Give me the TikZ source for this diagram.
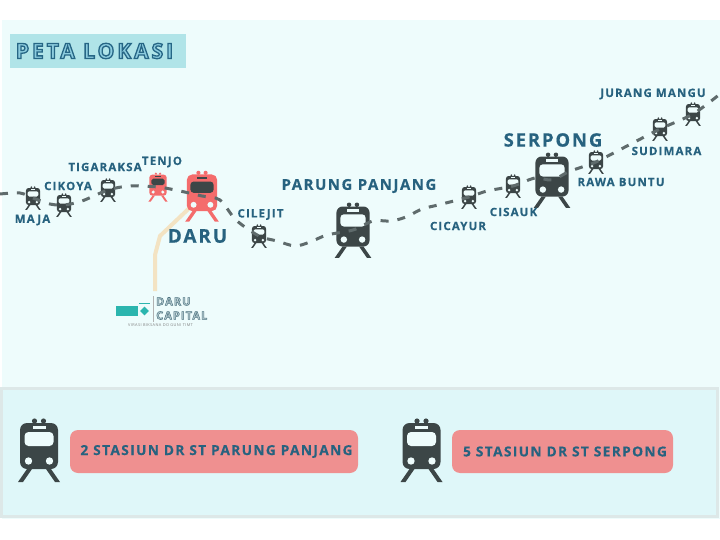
\documentclass[tikz,border=0pt]{standalone}
\usepackage{fontspec}
\setmainfont{Open Sans}[LetterSpace=10,BoldFeatures={FakeBold=0.35}]
\newfontfamily\hurufgaris{Open Sans Bold}[LetterSpace=10]
\usetikzlibrary{shapes.geometric}
\definecolor{latar}{HTML}{EEFCFC}
\definecolor{panel}{HTML}{DFF7F9}
\definecolor{garis}{HTML}{DDE8E8}
\definecolor{judul}{HTML}{B0E4E8}
\definecolor{teks}{HTML}{27627F}
\definecolor{gelap}{HTML}{3C4647}
\definecolor{merah}{HTML}{F46C6C}
\definecolor{pil}{HTML}{EF9090}
\definecolor{rel}{HTML}{5F6B6C}
\definecolor{jalan}{HTML}{F3E3C3}
\definecolor{logo}{HTML}{2BB5AE}
\newcommand{\garisluar}[4]{\special{pdf:code #2 rg #3 RG #1 w 2 Tr}#4\special{pdf:code 0 Tr 0 g 0 G}}
\tikzset{
  kecil/.style={font=\bfseries\fontsize{11.5}{12}\selectfont,text=teks,inner sep=0pt},
  sedang/.style={font=\bfseries\fontsize{15}{16}\selectfont,text=teks,inner sep=0pt},
  besar/.style={font=\bfseries\fontsize{19}{20}\selectfont,text=teks,inner sep=0pt},
  logoteks/.style={anchor=west,inner sep=0pt,font=\hurufgaris\fontsize{11}{12}\selectfont},
  pill/.style={fill=pil,rounded corners=8pt,inner sep=0pt,minimum height=43pt,
    font=\bfseries\fontsize{13.7}{15}\selectfont,text=teks},
  track/.style={draw=rel,line width=3pt,dash pattern=on 8pt off 9pt},
  pics/kereta/.style n args={3}{code={
    \begin{scope}[scale=#3]
    \fill[#1,rounded corners=#3*7pt] (-19,-27) rectangle (19,19); % badan
    \fill[#2,rounded corners=#3*4pt] (-14.5,-18) rectangle (14.5,-4); % jendela
    \fill[#2] (-6.5,-24) rectangle (6.5,-21);
    \fill[#1] (-4.5,-29) circle (2.6) (4.5,-29) circle (2.6);
    \fill[latar] (-10.5,11) circle (3.7) (10.5,11) circle (3.7); % lampu
    \fill[#1] (-12,19) -- (-21,32) -- (-16,32) -- (-7,19) -- cycle;
    \fill[#1] (12,19) -- (21,32) -- (16,32) -- (7,19) -- cycle;
    \end{scope}
  }}
}

\begin{document}
\begin{tikzpicture}[x=1pt,y=-1pt]
\useasboundingbox (0,0) rectangle (720,540);
\fill[latar] (2,20) rectangle (720,519);
\fill[panel,draw=garis,line width=3pt] (1,388) rectangle (717,516);
\node[fill=judul,minimum width=176pt,minimum height=34pt,inner sep=0pt,
  font=\fontsize{21}{21}\selectfont\hurufgaris] (judul) at (98,51)
  {\hspace*{-7pt}\addfontfeature{LetterSpace=14}\garisluar{1.3}{0.55 0.8 0.87}{0.15 0.4 0.52}{PETA LOKASI}};

% posisi stasiun
\foreach \nama/\x/\y in {maja/33/198, cikoya/64/205, tigaraksa/108/190, tenjo/158/187,
  daru/202/196, cilejit/259/236, parung/353/230, cicayur/469/197, cisauk/513/186,
  serpong/552/180, rawa/596/162, sudimara/660/129, jurang/693/114}
  \coordinate (\nama) at (\x,\y);

\coordinate (logoatas) at (155,291);
\draw[jalan,line width=4pt] (daru) -- (160,236) -- (155,255) -- (logoatas); % jalan ke logo

\foreach \nama in {maja,cikoya,tigaraksa,cilejit,cicayur,cisauk,rawa,sudimara,jurang}
  \pic at (\nama) {kereta={gelap}{latar}{0.37}};
\pic at (tenjo) {kereta={merah}{gelap}{0.46}};
\pic at (daru) {kereta={merah}{gelap}{0.8}};
\pic at (parung) {kereta={gelap}{latar}{0.87}};
\pic at (serpong) {kereta={gelap}{latar}{0.87}};

\coordinate (rel0) at (0,194);
\coordinate (rel1) at (720,94);
\draw[track] plot[smooth,tension=0.5] coordinates {(rel0) (20,193) (maja) (50,204) (cikoya)
  (82,201) (tigaraksa) (130,186) (tenjo) (180,191) (daru) (220,200) (236,220) (cilejit)
  (277,241) (295,246) (310,242) (327,235) (parung) (373,221) (391,221) (406,217) (422,209)
  (438,205) (cicayur) (487,191) (cisauk) (535,178) (serpong) (568,172) (582,167) (rawa)
  (627,146) (sudimara) (jurang) (rel1)};

% nama stasiun
\node[kecil] (nmaja) at (32.5,220) {MAJA};
\node[kecil] (ncikoya) at (68,186) {CIKOYA};
\node[kecil] (ntigaraksa) at (105,167) {TIGARAKSA};
\node[kecil] (ntenjo) at (162,162) {TENJO};
\node[besar] (ndaru) at (197.5,236) {DARU};
\node[kecil] (ncilejit) at (260.5,214.5) {CILEJIT};
\node[sedang] (nparung) at (359,186) {PARUNG PANJANG};
\node[kecil] (ncicayur) at (458,226) {CICAYUR};
\node[kecil] (ncisauk) at (513.5,212) {CISAUK};
\node[besar,font=\bfseries\fontsize{18.5}{20}\selectfont] (nserpong) at (553,140) {SERPONG};
\node[kecil] (nrawa) at (621,182) {RAWA BUNTU};
\node[kecil] (nsudimara) at (666.5,151) {SUDIMARA};
\node[kecil] (njurang) at (653,94) {JURANG MANGU};

% logo
\fill[logo] (116,306) rectangle (138,316);
\fill[logo] (139,302.5) rectangle (150,304);
\node[diamond,fill=logo,inner sep=0pt,minimum size=9pt] (wajik) at (144.5,311) {};
\draw[gray!60,line width=0.5pt] (153,296) -- (153,322);
\node[logoteks] (logo1) at (156,301.5) {\garisluar{0.5}{0.72 0.8 0.82}{0.3 0.45 0.5}{DARU}};
\node[logoteks] (logo2) at (156,315.5) {\garisluar{0.5}{0.72 0.8 0.82}{0.3 0.45 0.5}{CAPITAL}};
\node[inner sep=0pt,text=gray,font=\fontsize{3.9}{4}\selectfont] (logo3) at (160.5,325) {VIRASI BIKSANA DO GUNI TIMT};

% panel bawah
\coordinate (k1) at (39,450);
\coordinate (k2) at (421.5,450);
\pic at (k1) {kereta={gelap}{latar}{1}};
\pic at (k2) {kereta={gelap}{latar}{1}};
\node[pill,minimum width=288pt] (p1) at (214,451.5) {\hspace*{5pt}2 STASIUN DR ST PARUNG PANJANG};
\node[pill,minimum width=221pt] (p2) at (562.5,451.5) {\hspace*{5pt}5 STASIUN DR ST SERPONG};
\end{tikzpicture}
\end{document}
